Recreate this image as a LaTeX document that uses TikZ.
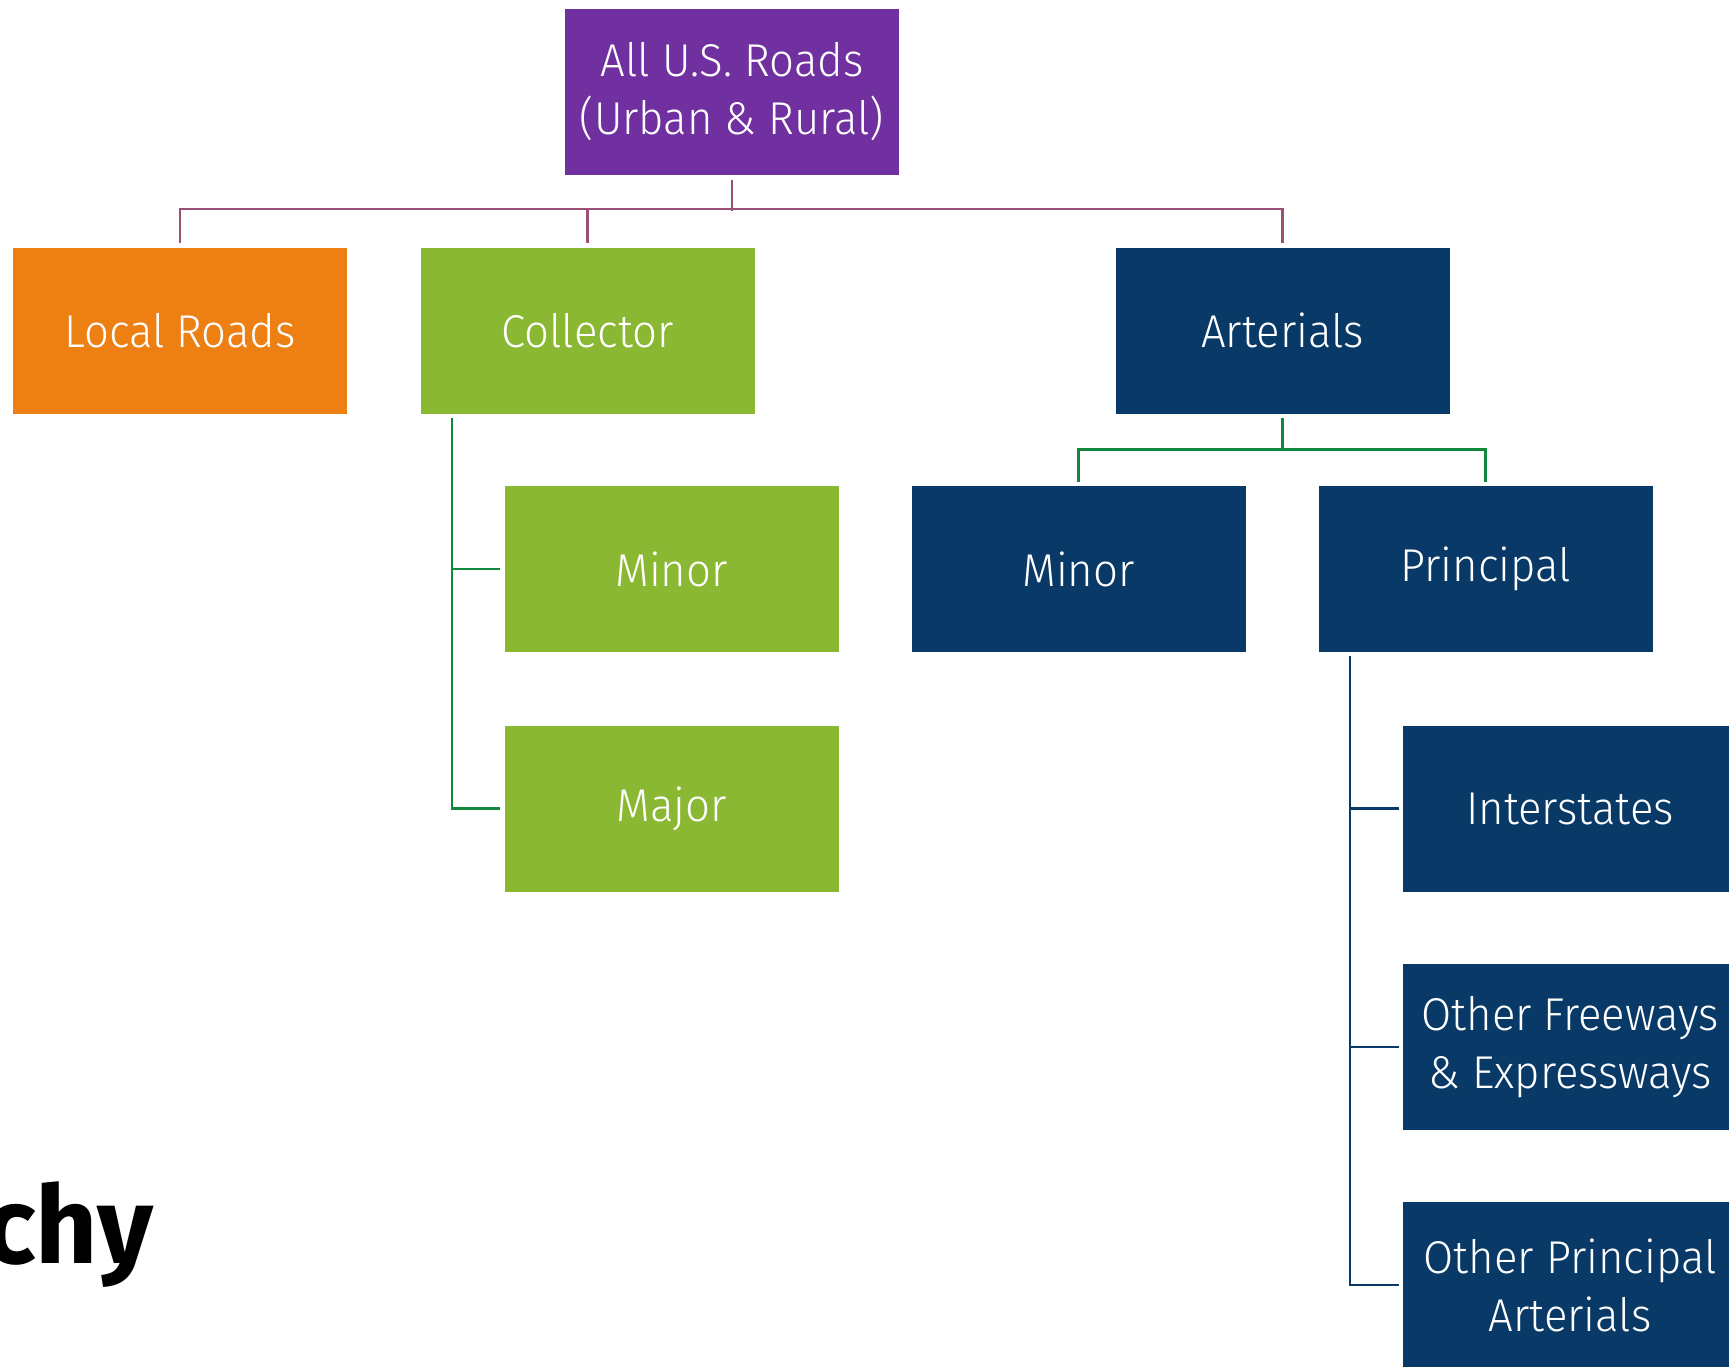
\documentclass[tikz,border=0pt]{standalone}
\usepackage{fontspec}
\setmainfont{Fira Sans Light}[FakeStretch=0.95]
\newfontfamily\chyfont{Fira Sans Bold}
\definecolor{rootpurple}{HTML}{7030A0}
\definecolor{localorange}{HTML}{EE8013}
\definecolor{collgreen}{HTML}{8BB833}
\definecolor{artblue}{HTML}{083967}
\definecolor{linemauve}{HTML}{9C4F74}
\definecolor{linegreen}{HTML}{10893E}
\newcommand{\boxfont}{\fontsize{23}{29}\selectfont}

\begin{document}
\begin{tikzpicture}[x=0.5pt,y=-0.5pt,
    box/.style={rectangle,minimum width=167pt,minimum height=83pt,
        inner sep=0pt,align=center,text=white,font=\boxfont},
    link/.style={line width=1.2pt}]

\useasboundingbox (0,0) rectangle (1729,1366);

% top level
\node[box,fill=rootpurple](roads) at (732,91.5){All U.S. Roads\\(Urban \& Rural)};

% second level
\node[box,fill=localorange](local) at (180,330.5){Local Roads};
\node[box,fill=collgreen](collector) at (587.5,330.5){Collector};
\node[box,fill=artblue](arterials) at (1282.5,330.5){Arterials};

% collector branch
\node[box,fill=collgreen](cminor) at (671.5,569){Minor};
\node[box,fill=collgreen](cmajor) at (671.5,808.5){Major};

% arterial branch
\node[box,fill=artblue](aminor) at (1078.5,569){Minor};
\node[box,fill=artblue](principal) at (1485.5,569){Principal};
\node[box,fill=artblue](interstates) at (1570,808.5){Interstates};
\node[box,fill=artblue](freeways) at (1570,1047){Other Freeways\\\& Expressways};
\node[box,fill=artblue](otherpa) at (1570,1285){Other Principal\\Arterials};

% title fragment
\node[anchor=base east,inner sep=0pt,font=\chyfont\fontsize{54}{54}\selectfont]
    (title) at (154,1263){chy};

% links from the root
\draw[link,linemauve](roads.south) ++(0,5) -- ++(0,31);
\draw[link,linemauve](local.north) ++(0,-4) -- ++(0,-34) -| ([yshift=2pt]arterials.north);
\draw[link,linemauve](collector.north) ++(0,-4) -- ++(0,-34);

% collector links
\draw[link,linegreen](collector.south west) ++(32,4) |- ([xshift=-2pt]cmajor.west);
\draw[link,linegreen]([xshift=-2pt]cminor.west) -- ++(-48,0);

% arterial links
\draw[link,linegreen](arterials.south) ++(0,4) -- ++(0,33);
\draw[link,linegreen](aminor.north) ++(0,-4) -- ++(0,-32) -| ([yshift=2pt]principal.north);

% principal links
\draw[link,artblue](principal.south west) ++(32,4) |- ([xshift=-2pt]otherpa.west);
\foreach \child in {interstates,freeways}
{
    \draw[link,artblue]([xshift=-2pt]\child.west) -- ++(-48,0);
}

\end{tikzpicture}
\end{document}
